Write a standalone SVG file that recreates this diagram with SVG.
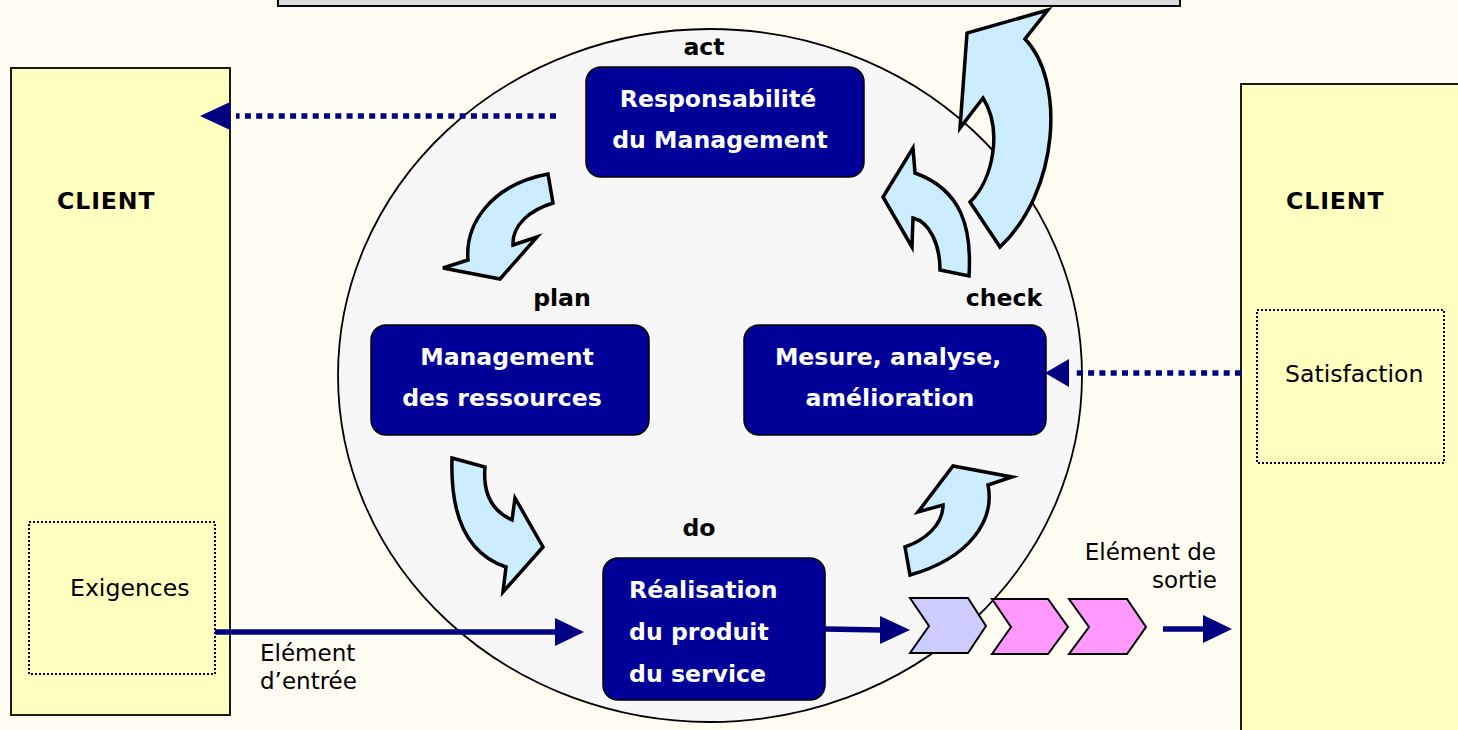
<svg xmlns="http://www.w3.org/2000/svg" width="1458" height="730" viewBox="0 0 1458 730">
<style>
.client{fill:#ffffc0;stroke:#1a1a1a;stroke-width:2}
.dotbox{fill:none;stroke:#000;stroke-width:2;stroke-dasharray:2 2}
.blue{fill:#000099;stroke:#000;stroke-width:1.5}
.cw{fill:#ccecff;stroke:#000;stroke-width:3.5;stroke-linejoin:miter}
.wt{font-family:"DejaVu Sans",Verdana,sans-serif;font-size:23.6px;font-weight:bold;fill:#fff}
.bt{font-family:"DejaVu Sans",Verdana,sans-serif;font-size:23.6px;font-weight:bold;fill:#000}
.cl{letter-spacing:0.9px}
.nt{font-family:"DejaVu Sans",Verdana,sans-serif;font-size:23.6px;fill:#000}
.lb{font-family:"DejaVu Sans",Verdana,sans-serif;font-size:23px;fill:#000}
.dash{stroke:#000080;stroke-width:5.5;stroke-dasharray:6 5.3;fill:none}
.sol{stroke:#000080;stroke-width:5.5;fill:none}
.head{fill:#000080}
.chev{stroke:#000;stroke-width:2;stroke-linejoin:miter}
</style>
<rect x="0" y="0" width="1458" height="730" fill="#fffcf2"/>
<rect x="278" y="-20" width="902" height="26" fill="#dcdcdc" stroke="#000" stroke-width="2"/>
<ellipse cx="710" cy="375.5" rx="372" ry="346.5" fill="#f7f7f7" stroke="#000" stroke-width="1.8"/>

<g id="client-left">
<rect class="client" x="11" y="68" width="219" height="647"/>
<text class="bt cl" x="57" y="209">CLIENT</text>
</g>
<g id="exigences">
<rect class="dotbox" x="29" y="522" width="186" height="152"/>
<text class="nt" x="70" y="596">Exigences</text>
</g>
<g id="client-right">
<rect class="client" x="1241" y="84" width="240" height="700"/>
<text class="bt cl" x="1286" y="209">CLIENT</text>
</g>
<g id="satisfaction">
<rect class="dotbox" x="1257" y="310" width="187" height="153"/>
<text class="nt" x="1285" y="382">Satisfaction</text>
</g>

<g id="act">
<text class="bt" x="704" y="55" text-anchor="middle">act</text>
<rect class="blue" x="586" y="67" width="278" height="110" rx="15"/>
<text class="wt" x="718" y="107" text-anchor="middle">Responsabilité</text>
<text class="wt" x="720" y="148" text-anchor="middle">du Management</text>
</g>
<g id="plan">
<text class="bt" x="562" y="306" text-anchor="middle">plan</text>
<rect class="blue" x="371" y="325" width="278" height="110" rx="15"/>
<text class="wt" x="507" y="365" text-anchor="middle">Management</text>
<text class="wt" x="502" y="406" text-anchor="middle">des ressources</text>
</g>
<g id="check">
<text class="bt" x="1004" y="306" text-anchor="middle">check</text>
<rect class="blue" x="744" y="325" width="302" height="110" rx="15"/>
<text class="wt" x="888" y="365" text-anchor="middle">Mesure, analyse,</text>
<text class="wt" x="890" y="406" text-anchor="middle">amélioration</text>
</g>
<g id="do">
<text class="bt" x="699" y="536" text-anchor="middle">do</text>
<rect class="blue" x="603" y="558" width="222" height="142" rx="15"/>
<text class="wt" x="629" y="598">Réalisation</text>
<text class="wt" x="629" y="640">du produit</text>
<text class="wt" x="629" y="682">du service</text>
</g>

<g id="cycle-arrows">
<path class="cw" d="M548,174 L553,203 C530,210 512,225 513,245 L537,237 L500,279 L443,268 L468,260 C465,225 490,185 548,174 Z"/>
<path class="cw" d="M452,458 L485,467 C483,490 490,510 512,520 L515,498 L543,547 L503,592 L506,567 C470,555 450,520 452,458 Z"/>
<path class="cw" d="M910,575 L905,547 C925,540 943,525 943,505 L918,512 L953,466 L1012,477 L988,485 C995,520 970,558 910,575 Z"/>
<path class="cw" d="M940,270 L969,276 C972,228 962,190 915,173 L913,148 L883,197 L912,247 L913,218 C930,222 940,245 940,270 Z"/>
<path class="cw" d="M1000,247 L970,202 C993,180 1003,130 983,98 L960,128 L967,33 L1048,10 L1025,39 C1065,80 1060,190 1000,247 Z"/>
</g>

<g id="chevrons">
<polygon class="chev" fill="#ccccff" points="910,598 968,598 986,626 968,653 910,653 929,626"/>
<polygon class="chev" fill="#ff99ff" points="992,599 1048,599 1068,627 1048,654 992,654 1011,627"/>
<polygon class="chev" fill="#ff99ff" points="1069,599 1127,599 1146,627 1127,654 1069,654 1089,627"/>
</g>

<g id="connectors">
<line class="dash" x1="556" y1="116" x2="236" y2="116"/>
<polygon class="head" points="200,116 230,102 230,130"/>
<line class="dash" x1="1241" y1="373" x2="1073" y2="373"/>
<polygon class="head" points="1045,373 1069,359 1069,387"/>
<line class="sol" x1="215" y1="632" x2="557" y2="632"/>
<polygon class="head" points="584,632 555,618 555,646"/>
<line class="sol" x1="825" y1="629" x2="882" y2="630"/>
<polygon class="head" points="910,630 880,616 880,644"/>
<line class="sol" x1="1163" y1="629" x2="1205" y2="629"/>
<polygon class="head" points="1232,629 1203,615 1203,643"/>
</g>

<g id="labels">
<text class="lb" x="260" y="661">Elément</text>
<text class="lb" x="260" y="689">d’entrée</text>
<text class="lb" text-anchor="end" x="1216" y="560">Elément de</text>
<text class="lb" text-anchor="end" x="1217" y="588">sortie</text>
</g>
</svg>
